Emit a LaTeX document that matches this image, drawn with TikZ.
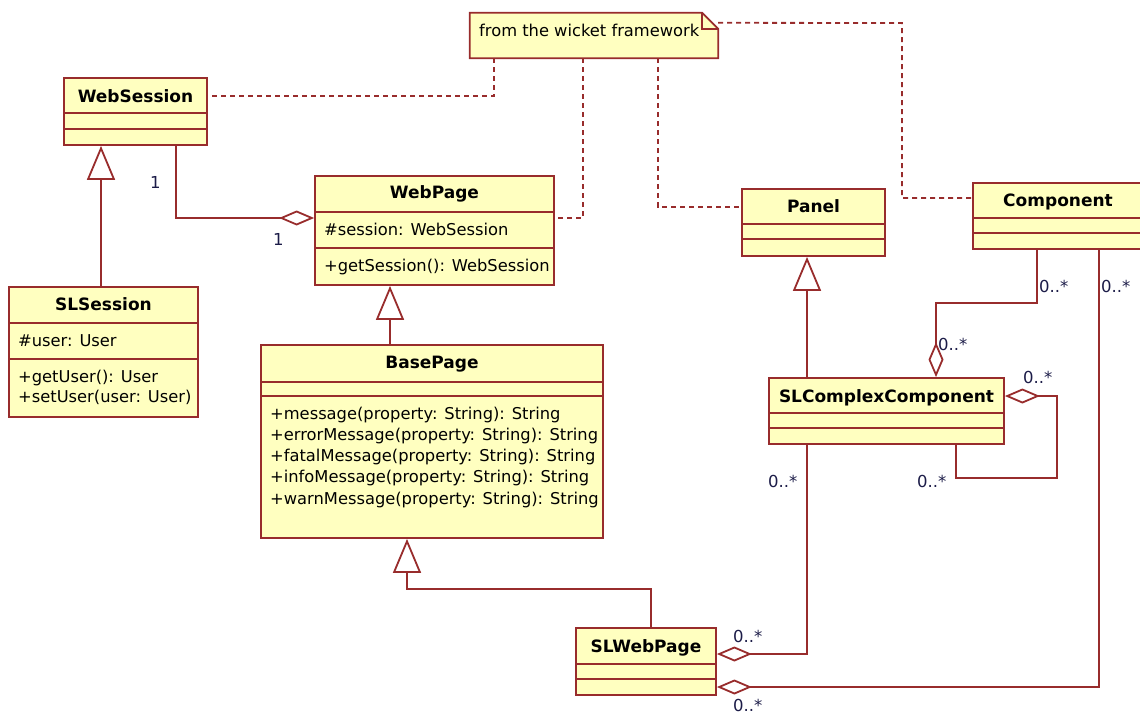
\documentclass[tikz,border=0pt]{standalone}
\usepackage{fontspec}
\setmainfont{DejaVu Sans}
\usetikzlibrary{arrows.meta}

\definecolor{umlred}{RGB}{152,44,44}
\definecolor{umlfill}{RGB}{255,255,192}
\definecolor{multcol}{RGB}{28,28,72}

\tikzset{
  classbox/.style={draw=umlred, fill=umlfill, line width=1.8pt, inner sep=0pt},
  sepline/.style={draw=umlred, line width=1.8pt},
  classname/.style={font=\fontsize{17}{20}\selectfont\bfseries, inner sep=0pt, anchor=base},
  member/.style={font=\fontsize{16.3}{20}\selectfont, inner sep=0pt, anchor=base west},
  mult/.style={font=\fontsize{16.5}{20}\selectfont, inner sep=0pt, anchor=base west, text=multcol},
  gen/.style={draw=umlred, line width=1.8pt,
    -{Triangle[length=34pt,width=28pt,fill=white]}},
  agg/.style={draw=umlred, line width=1.8pt,
    -{Diamond[length=35pt,width=15pt,fill=white]}},
  notelink/.style={draw=umlred, line width=1.8pt, dash pattern=on 5pt off 4pt},
}

% id, left, top, right, bottom, first separator, second separator, title baseline, title
\newcommand\umlclass[9]{%
  \node[classbox, minimum width={(#4)-(#2)}, minimum height={(#5)-(#3)}]
    (#1) at ({((#2)+(#4))/2},{((#3)+(#5))/2}) {};
  \draw[sepline] (#1.west |- 0,#6) -- (#1.east |- 0,#6);
  \draw[sepline] (#1.west |- 0,#7) -- (#1.east |- 0,#7);
  \node[classname] (#1-name) at ({((#2)+(#4))/2},#8) {#9};
}

\begin{document}
\begin{tikzpicture}[x=1pt, y=-1pt]
\useasboundingbox (0,0) rectangle (1140,713);
\clip (0,0) rectangle (1140,713);

% note
\node[minimum width=248, minimum height=45, inner sep=0pt] (note) at (594,35.5) {};
\draw[classbox] (note.north west) -- ([xshift=-16pt]note.north east)
  -- ([yshift=-16pt]note.north east) -- (note.south east) -- (note.south west) -- cycle;
\draw[sepline] ([xshift=-16pt]note.north east) |- ([yshift=-16pt]note.north east);
\node[member] (note-text) at (479,36) {from the wicket framework};

% classes
\umlclass{ws}{64}{78}{207}{145}{113}{129}{102}{WebSession}
\umlclass{wp}{315}{176}{554}{285}{212}{248}{198.5}{WebPage}
\node[member] (wp-a1) at (324,235) {\#session: WebSession};
\node[member] (wp-m1) at (324,271) {+getSession(): WebSession};

\umlclass{sls}{9}{287}{198}{417}{323}{359}{310}{SLSession}
\node[member] (sls-a1) at (18,346) {\#user: User};
\node[member] (sls-m1) at (18,382) {+getUser(): User};
\node[member] (sls-m2) at (18,402) {+setUser(user: User)};

\umlclass{bp}{261}{345}{603}{538}{382}{396}{368}{BasePage}
\node[member] (bp-m1) at (270,419) {+message(property: String): String};
\node[member] (bp-m2) at (270,440.2) {+errorMessage(property: String): String};
\node[member] (bp-m3) at (270,461.5) {+fatalMessage(property: String): String};
\node[member] (bp-m4) at (270,482.8) {+infoMessage(property: String): String};
\node[member] (bp-m5) at (270,504) {+warnMessage(property: String): String};

\umlclass{slw}{576}{628}{716}{695}{664}{679}{652}{SLWebPage}
\umlclass{pn}{742}{189}{885}{256}{224}{239}{212}{Panel}
\umlclass{cp}{973}{183}{1143}{249}{218}{233}{206}{Component}
\umlclass{scc}{769}{378}{1004}{444}{413}{428}{402}{SLComplexComponent}

% note links
\draw[notelink] (note.south -| 494,0) |- (ws.east |- 0,96);
\draw[notelink] (note.south -| 583,0) |- (wp.east |- 0,218);
\draw[notelink] (note.south -| 658,0) |- (pn.west |- 0,207);
\draw[notelink] ([yshift=-10pt]note.north east) -- (902,23) |- (cp.west |- 0,198);

% generalizations
\draw[gen] (sls.north -| 101,0) -- (ws.south -| 101,0);
\draw[gen] (bp.north -| 390,0) -- (wp.south -| 390,0);
\draw[gen] (slw.north -| 651,0) -- (651,589) -| (bp.south -| 407,0);
\draw[gen] (scc.north -| 807,0) -- (pn.south -| 807,0);

% aggregations
\draw[agg] (ws.south -| 176,0) |- (wp.west |- 0,218);
\draw[agg] (cp.south -| 1037,0) -- (1037,303) -| (scc.north -| 936,0);
\draw[agg] (cp.south -| 1099,0) |- (slw.east |- 0,687);
\draw[agg] (scc.south -| 807,0) |- (slw.east |- 0,654);
\draw[agg] (scc.south -| 956,0) |- (1057,478) |- (scc.east |- 0,396);

% multiplicities
\node[mult] (m-ws) at (150,188) {1};
\node[mult] (m-wp) at (273,245) {1};
\node[mult] (m-cp1) at (1039,292) {0..*};
\node[mult] (m-cp2) at (1101,292) {0..*};
\node[mult] (m-scc1) at (938,350) {0..*};
\node[mult] (m-scc2) at (1023,383) {0..*};
\node[mult] (m-scc3) at (917,487) {0..*};
\node[mult] (m-scc4) at (768,487) {0..*};
\node[mult] (m-slw1) at (733,642) {0..*};
\node[mult] (m-slw2) at (733,711) {0..*};
\end{tikzpicture}
\end{document}
